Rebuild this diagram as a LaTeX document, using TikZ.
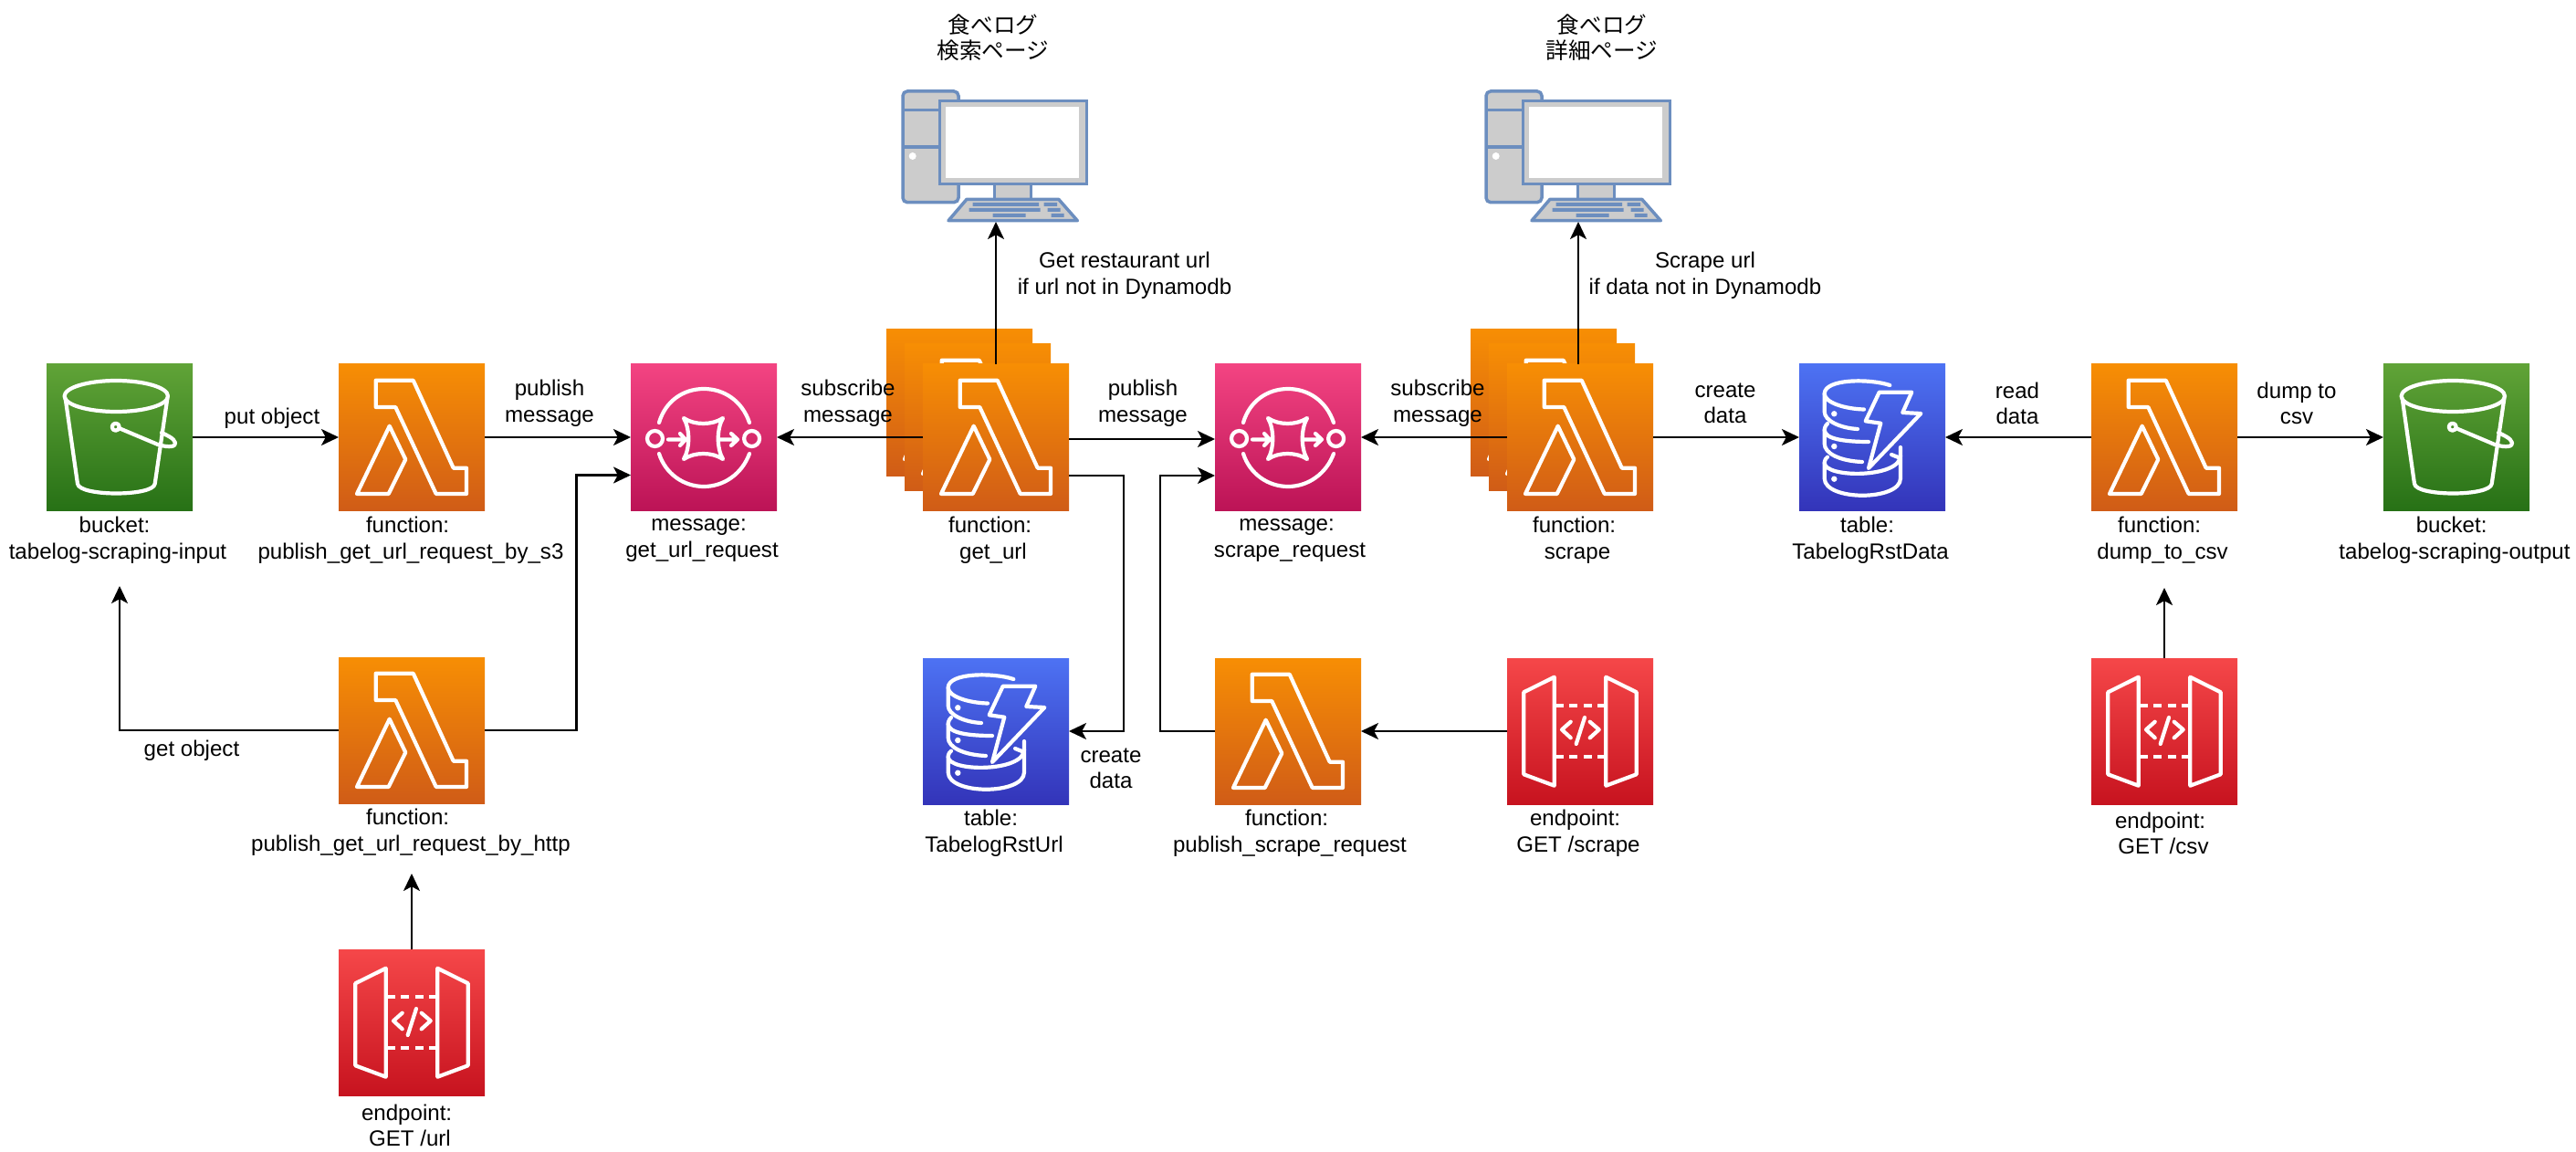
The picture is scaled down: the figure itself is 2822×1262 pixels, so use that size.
\documentclass[tikz,border=0pt]{standalone}
\usepackage{fontspec}
\setmainfont{Liberation Sans}
\newfontfamily\jpfont{Noto Sans CJK JP}
\usetikzlibrary{arrows.meta}
\definecolor{pcblue}{HTML}{6C8EBF}
\definecolor{pcgrey}{HTML}{CCCCCC}
\definecolor{sthreetop}{HTML}{60A337}
\definecolor{sthreebot}{HTML}{277116}
\definecolor{lamtop}{HTML}{F78E04}
\definecolor{lambot}{HTML}{D05C17}
\definecolor{sqstop}{HTML}{F34482}
\definecolor{sqsbot}{HTML}{BC1356}
\definecolor{dyntop}{HTML}{4D72F3}
\definecolor{dynbot}{HTML}{3334B9}
\definecolor{apitop}{HTML}{F54749}
\definecolor{apibot}{HTML}{C7131F}
\tikzset{
  iconbox/.style={minimum size=80pt,inner sep=0pt,outer sep=0pt,anchor=north west,shade,shading=axis},
  s3box/.style={iconbox,top color=sthreetop,bottom color=sthreebot},
  lambdabox/.style={iconbox,top color=lamtop,bottom color=lambot},
  sqsbox/.style={iconbox,top color=sqstop,bottom color=sqsbot},
  dynbox/.style={iconbox,top color=dyntop,bottom color=dynbot},
  apibox/.style={iconbox,top color=apitop,bottom color=apibot},
  wline/.style={draw=white,line width=2.1pt,line join=round,line cap=round},
  flow/.style={draw=black,line width=1.1pt,-{Stealth[length=9.5pt,width=9pt,inset=2.4pt]}},
  lbl/.style={align=center,inner sep=0pt,font=\fontsize{12.05}{14.25}\selectfont},
  pcline/.style={draw=pcblue,line width=1.75pt,fill=pcgrey},
  pckey/.style={fill=pcblue,draw=none},
  s3icon/.pic={
    \draw[wline] (76.3,35) ellipse [x radius=56.7,y radius=17];
    \draw[wline] (20.7,37.7) -- (34,131) .. controls (36,145) and (117,145) .. (118.7,131) -- (132.3,37.7);
    \draw[wline] (75.7,68.7) circle [radius=4];
    \draw[wline] (80,70.3) -- (122,88) .. controls (135,92) and (142,90) .. (141,86) .. controls (140,81) and (130,77) .. (126,75);
  },
  lambdaicon/.pic={
    \draw[wline] (40.7,17.7) -- (81.7,17.7) -- (125.7,113.7) -- (140,113.7) -- (140,142) -- (106.7,142) -- (62.3,47) -- (40.7,47) -- cycle;
    \draw[wline] (55.7,67.7) -- (73.3,104.3) -- (54.7,142) -- (20,142) -- cycle;
  },
  sqsicon/.pic={
    \draw[wline] (31,64) .. controls (38,40) and (58,27) .. (80,27) .. controls (102,27) and (122,40) .. (130,64);
    \draw[wline] (31,98) .. controls (38,120) and (58,134) .. (80,134) .. controls (102,134) and (122,120) .. (130,98);
    \draw[wline] (26.5,81.5) circle [radius=8.5];
    \draw[wline] (132.6,81.5) circle [radius=8.5];
    \draw[wline] (58,59) .. controls (70,67) and (89,67) .. (101,59) .. controls (94,71) and (94,92) .. (101,104) .. controls (89,96) and (70,96) .. (58,104) .. controls (65,92) and (65,71) .. (58,59) -- cycle;
    \draw[wline] (41,82.5) -- (60,82.5) (54,76) -- (60,82.5) -- (54,89);
    \draw[wline] (98,82.5) -- (117,82.5) (110,76) -- (117,82.5) -- (110,89);
  },
  dynicon/.pic={
    \draw[wline] (99.3,23) .. controls (77.7,15.7) and (27.7,15.7) .. (27.7,32.3) -- (27.7,52) .. controls (27.7,62) and (45,70) .. (64,71);
    \draw[wline] (27.7,32.3) .. controls (27.7,42) and (50,49) .. (71,49.5);
    \draw[wline] (31,65) .. controls (27.7,68) and (27.7,72) .. (27.7,72) -- (27.7,87) .. controls (27.7,98) and (45,106) .. (69,107);
    \draw[wline] (27.7,72) .. controls (27.7,82) and (50,85) .. (76,85);
    \draw[wline] (31,101.7) .. controls (27.7,104) and (27.7,108) .. (27.7,108) -- (27.7,125) .. controls (27.7,150) and (111,150) .. (111,125) -- (111,91);
    \draw[wline] (27.7,108) .. controls (27.7,125) and (111,125) .. (111,100) (101,99) -- (111,103);
    \fill[white] (38.3,54.3) circle [radius=3.2] (38.3,90) circle [radius=3.2] (38.3,125.7) circle [radius=3.2];
    \draw[wline] (87.7,30.7) -- (123.3,30.7) -- (113.3,53) -- (133.3,54) -- (76,114) -- (89.3,64.7) -- (72.7,62.3) -- cycle;
  },
  apiicon/.pic={
    \draw[wline] (18.3,37.3) -- (51.7,20.7) -- (51.7,139.7) -- (18.3,127.3) -- cycle;
    \draw[wline] (108.3,20.7) -- (141.7,37.3) -- (141.7,127.3) -- (108.3,139.7) -- cycle;
    \draw[white,line width=2.1pt,dash pattern=on 4.5pt off 3.2pt] (53,51.7) -- (108,51.7) (53,108) -- (108,108);
    \draw[wline] (69.7,69.7) -- (60,78.3) -- (69.7,87.3);
    \draw[wline] (90.7,69.7) -- (100.7,78.3) -- (90.7,87.3);
    \draw[wline] (85,65) -- (75.7,94);
  },
  pcicon/.pic={
    \draw[pcline,rounded corners=2.5pt] (1,1) rectangle (62,122.7);
    \draw[pcblue,line width=1.75pt] (1,21.7) -- (41,21.7) (1,62) -- (41,62);
    \fill[white] (11.7,72) circle [radius=4];
    \draw[pcline] (101.7,102.7) rectangle (141.7,119.3);
    \draw[pcline] (41.7,11.7) rectangle (202.3,102.7);
    \fill[white] (47.7,17.7) rectangle (194,96);
    \draw[pcline,line join=round] (71,119.3) -- (171.7,119.3) -- (192.3,142.7) -- (51,142.7) -- cycle;
    \fill[pckey] (77.7,123) rectangle (150,127) (155.7,123) rectangle (170,127)
      (73.7,129) rectangle (151.7,133) (159.7,129) rectangle (173.7,133)
      (99.7,135) rectangle (135.7,139) (163.7,135) rectangle (177.7,139);
  },
}
\newcommand{\awsicon}[5]{\node[#4] (#1) at (#2,#3) {}; \pic at (#1.north west) {#5};}
\newcommand{\trsp}{\hspace*{3.4pt}}
\begin{document}
\begin{tikzpicture}[x=0.5pt,y=-0.5pt]
\useasboundingbox (0,0) rectangle (2822,1262);
\fill[white] (0,0) rectangle (2822,1262);

% computers
\pic at (988,99) {pcicon};
\pic at (1627,99) {pcicon};
\coordinate (pcA) at (1091,243);
\coordinate (pcB) at (1729,243);

% stacked back copies
\awsicon{urlback}{971}{361}{lambdabox}{lambdaicon}
\awsicon{urlmid}{991}{377}{lambdabox}{lambdaicon}
\awsicon{scrapeback}{1611}{361}{lambdabox}{lambdaicon}
\awsicon{scrapemid}{1631}{377}{lambdabox}{lambdaicon}

% main icons
\awsicon{bucketin}{51}{399}{s3box}{s3icon}
\awsicon{pubsthree}{371}{399}{lambdabox}{lambdaicon}
\awsicon{squrl}{691}{399}{sqsbox}{sqsicon}
\awsicon{geturl}{1011}{399}{lambdabox}{lambdaicon}
\awsicon{sqscrape}{1331}{399}{sqsbox}{sqsicon}
\awsicon{scrape}{1651}{399}{lambdabox}{lambdaicon}
\awsicon{tabledata}{1971}{399}{dynbox}{dynicon}
\awsicon{dumpcsv}{2291}{399}{lambdabox}{lambdaicon}
\awsicon{bucketout}{2611}{399}{s3box}{s3icon}
\awsicon{pubhttp}{371}{720}{lambdabox}{lambdaicon}
\awsicon{tableurl}{1011}{721}{dynbox}{dynicon}
\awsicon{pubscrape}{1331}{721}{lambdabox}{lambdaicon}
\awsicon{epscrape}{1651}{721}{apibox}{apiicon}
\awsicon{epcsv}{2291}{721}{apibox}{apiicon}
\awsicon{epurl}{371}{1040}{apibox}{apiicon}

% text below icons
\node[lbl] (tbucketin) at (129,592) {bucket:\trsp\\tabelog-scraping-input};
\node[lbl] (tpubsthree) at (450,592) {function:\trsp\\publish\_get\_url\_request\_by\_s3};
\node[lbl] (tsqurl) at (769,592) {message:\trsp\\get\_url\_request};
\node[lbl] (tgeturl) at (1088,592) {function:\trsp\\get\_url};
\node[lbl] (tsqscrape) at (1413,592) {message:\trsp\\scrape\_request};
\node[lbl] (tscrape) at (1728,592) {function:\trsp\\scrape};
\node[lbl] (ttabledata) at (2049,592) {table:\trsp\\TabelogRstData};
\node[lbl] (tdumpcsv) at (2369,592) {function:\trsp\\dump\_to\_csv};
\node[lbl] (tbucketout) at (2689,592) {bucket:\trsp\\tabelog-scraping-output};
\node[lbl] (tpubhttp) at (450,912) {function:\trsp\\publish\_get\_url\_request\_by\_http};
\node[lbl] (ttableurl) at (1089,913) {table:\trsp\\TabelogRstUrl};
\node[lbl] (tpubscrape) at (1413,913) {function:\trsp\\publish\_scrape\_request};
\node[lbl] (tepscrape) at (1729,913) {endpoint:\trsp\\GET /scrape};
\node[lbl] (tepcsv) at (2370,913) {endpoint:\trsp\\GET /csv};
\node[lbl] (tepurl) at (449,1233) {endpoint:\trsp\\GET /url};

% top titles
\node[lbl,font=\fontsize{12.3}{14.25}\selectfont\jpfont] (tpca) at (1088,41) {食べログ\\検索ページ};
\node[lbl,font=\fontsize{12.3}{14.25}\selectfont\jpfont] (tpcb) at (1755,41) {食べログ\\詳細ページ};

% connectors
\draw[flow] (bucketin.east) -- (pubsthree.west);
\draw[flow] (pubsthree.east) -- (squrl.west);
\draw[flow] (pubhttp.east) -| (631.5,520.5) -- (691,520.5);
\draw[flow] (pubhttp.west) -| (131,642);
\draw[flow] (epurl.north) -- (451,957);
\draw[flow] (geturl.west) -- (squrl.east);
\draw[flow] (geturl.north) -- (pcA);
\draw[flow] (1171,481) -- (1331,481);
\draw[flow] (1171,521) -| (1231,801) -- (tableurl.east);
\draw[flow] (pubscrape.west) -| (1271,521) -- (1331,521);
\draw[flow] (epscrape.west) -- (pubscrape.east);
\draw[flow] (scrape.west) -- (sqscrape.east);
\draw[flow] (1729,399) -- (pcB);
\draw[flow] (scrape.east) -- (tabledata.west);
\draw[flow] (dumpcsv.west) -- (tabledata.east);
\draw[flow] (dumpcsv.east) -- (bucketout.west);
\draw[flow] (epcsv.north) -- (2371,644);

% connector labels
\node[lbl] (lput) at (298,458) {put object};
\node[lbl] (lpub) at (602,442) {publish\\message};
\node[lbl] (lsuba) at (929,442) {subscribe\\message};
\node[lbl] (lpubb) at (1252,442) {publish\\message};
\node[lbl] (lsubb) at (1575,442) {subscribe\\message};
\node[lbl] (lcreatea) at (1890,442) {create\\data};
\node[lbl] (lread) at (2210,442) {read\\data};
\node[lbl] (ldump) at (2516,442) {dump to\\csv};
\node[lbl] (lgeto) at (210,822) {get object};
\node[lbl] (lcreateb) at (1217,842) {create\\data};
\node[lbl] (lgeturl) at (1232,302) {Get restaurant url\\if url not in Dynamodb};
\node[lbl] (lscrape) at (1868,302) {Scrape url\\if data not in Dynamodb};
\end{tikzpicture}
\end{document}
